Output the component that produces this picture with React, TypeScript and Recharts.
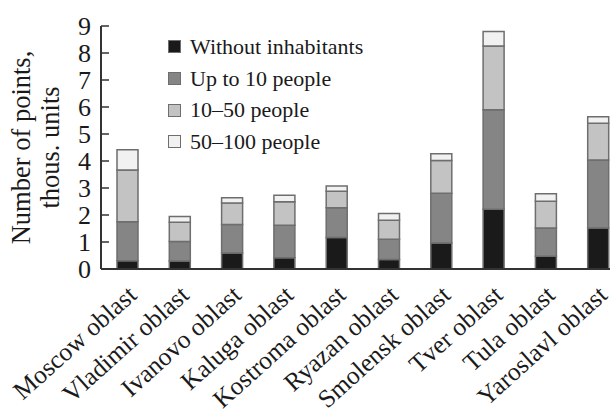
import React from "react";
import { BarChart, Bar, XAxis, YAxis, Legend } from "recharts";

const regions = [
  "Moscow oblast",
  "Vladimir oblast",
  "Ivanovo oblast",
  "Kaluga oblast",
  "Kostroma oblast",
  "Ryazan oblast",
  "Smolensk oblast",
  "Tver oblast",
  "Tula oblast",
  "Yaroslavl oblast",
];
const seriesNames = ["Without inhabitants", "Up to 10 people", "10–50 people", "50–100 people"];
const withoutInhabitants = [0.31, 0.3, 0.59, 0.42, 1.17, 0.35, 0.96, 2.21, 0.47, 1.52];
const upTo10 = [1.44, 0.72, 1.06, 1.2, 1.1, 0.75, 1.85, 3.69, 1.05, 2.52];
const from10to50 = [1.92, 0.71, 0.79, 0.87, 0.61, 0.71, 1.21, 2.36, 0.99, 1.36];
const from50to100 = [0.75, 0.21, 0.2, 0.24, 0.19, 0.25, 0.25, 0.54, 0.28, 0.24];
const yTicks = [0, 1, 2, 3, 4, 5, 6, 7, 8, 9];

const data = regions.map((name, i) => ({
  name,
  a: withoutInhabitants[i],
  b: upTo10[i],
  c: from10to50[i],
  d: from50to100[i],
}));

const FONT = "Liberation Serif, DejaVu Serif, serif";
const STROKE = "#6e6e6e";
const AXIS = "#333333";

const YTick = (props: any) => {
  const { x, y, payload } = props;
  return (
    <g>
      <line x1={x} x2={x + 8} y1={y} y2={y} stroke={AXIS} strokeWidth={1.5} />
      <text x={x - 10} y={y} dy="0.35em" textAnchor="end" style={{ fontFamily: FONT }} fontSize={26} fill="#1a1a1a">
        {payload.value}
      </text>
    </g>
  );
};

const XTick = (props: any) => {
  const { x, y, payload } = props;
  return (
    <g transform={`translate(${x + 11},${y + 20})`}>
      <text x={0} y={0} textAnchor="end" transform="rotate(-42)" style={{ fontFamily: FONT }} fontSize={25.5} fill="#1a1a1a">
        {payload.value}
      </text>
    </g>
  );
};

const YLabel = (props: any) => {
  const vb = props.viewBox || {};
  const cy = vb.y + vb.height / 2;
  return (
    <g>
      <text transform={`translate(30,${cy}) rotate(-90)`} textAnchor="middle" style={{ fontFamily: FONT }} fontSize={26.5} fill="#1a1a1a">
        Number of points,
      </text>
      <text transform={`translate(59,${cy}) rotate(-90)`} textAnchor="middle" style={{ fontFamily: FONT }} fontSize={26.5} fill="#1a1a1a">
        thous. units
      </text>
    </g>
  );
};

const LegendContent = (props: any) => {
  const payload = [...(props.payload || [])].sort(
    (p: any, q: any) => seriesNames.indexOf(p.value) - seriesNames.indexOf(q.value)
  );
  return (
    <div style={{ textAlign: "left" }}>
      {payload.map((p: any) => (
        <div key={p.value} style={{ display: "flex", alignItems: "center", height: 31.7 }}>
          <span
            style={{
              display: "inline-block",
              width: 11,
              height: 11,
              background: p.color,
              border: `1px solid ${STROKE}`,
              marginRight: 9,
            }}
          />
          <span style={{ fontFamily: FONT, fontSize: 22, color: "#1a1a1a", lineHeight: "22px" }}>{p.value}</span>
        </div>
      ))}
    </div>
  );
};

export default function App() {
  return (
    <div style={{ position: "absolute", left: 0, top: 0, width: 610, height: 416, overflow: "hidden", background: "#fff" }}>
      <BarChart
        width={630}
        height={416}
        data={data}
        margin={{ top: 26, right: 6, left: 0, bottom: 0 }}
        style={{ fontFamily: FONT }}
      >
        <XAxis
          dataKey="name"
          height={147}
          axisLine={{ stroke: AXIS, strokeWidth: 2 }}
          tickLine={false}
          tick={<XTick />}
          interval={0}
        />
        <YAxis
          width={101}
          domain={[0, 9]}
          ticks={yTicks}
          axisLine={{ stroke: AXIS, strokeWidth: 2 }}
          tickLine={false}
          tickSize={0}
          tickMargin={0}
          tick={<YTick />}
          interval={0}
          label={<YLabel />}
        />
        <Legend
          layout="horizontal"
          align="center"
          verticalAlign="middle"
          itemSorter={null as any}
          content={<LegendContent />}
          wrapperStyle={{ left: 168, top: 31, width: 260 }}
        />
        <Bar dataKey="a" name={seriesNames[0]} stackId="s" fill="#1a1a1a" stroke={STROKE} strokeWidth={1.5} barSize={21} isAnimationActive={false} />
        <Bar dataKey="b" name={seriesNames[1]} stackId="s" fill="#858585" stroke={STROKE} strokeWidth={1.5} barSize={21} isAnimationActive={false} />
        <Bar dataKey="c" name={seriesNames[2]} stackId="s" fill="#c3c3c3" stroke={STROKE} strokeWidth={1.5} barSize={21} isAnimationActive={false} />
        <Bar dataKey="d" name={seriesNames[3]} stackId="s" fill="#f1f1f1" stroke={STROKE} strokeWidth={1.5} barSize={21} isAnimationActive={false} />
      </BarChart>
    </div>
  );
}
